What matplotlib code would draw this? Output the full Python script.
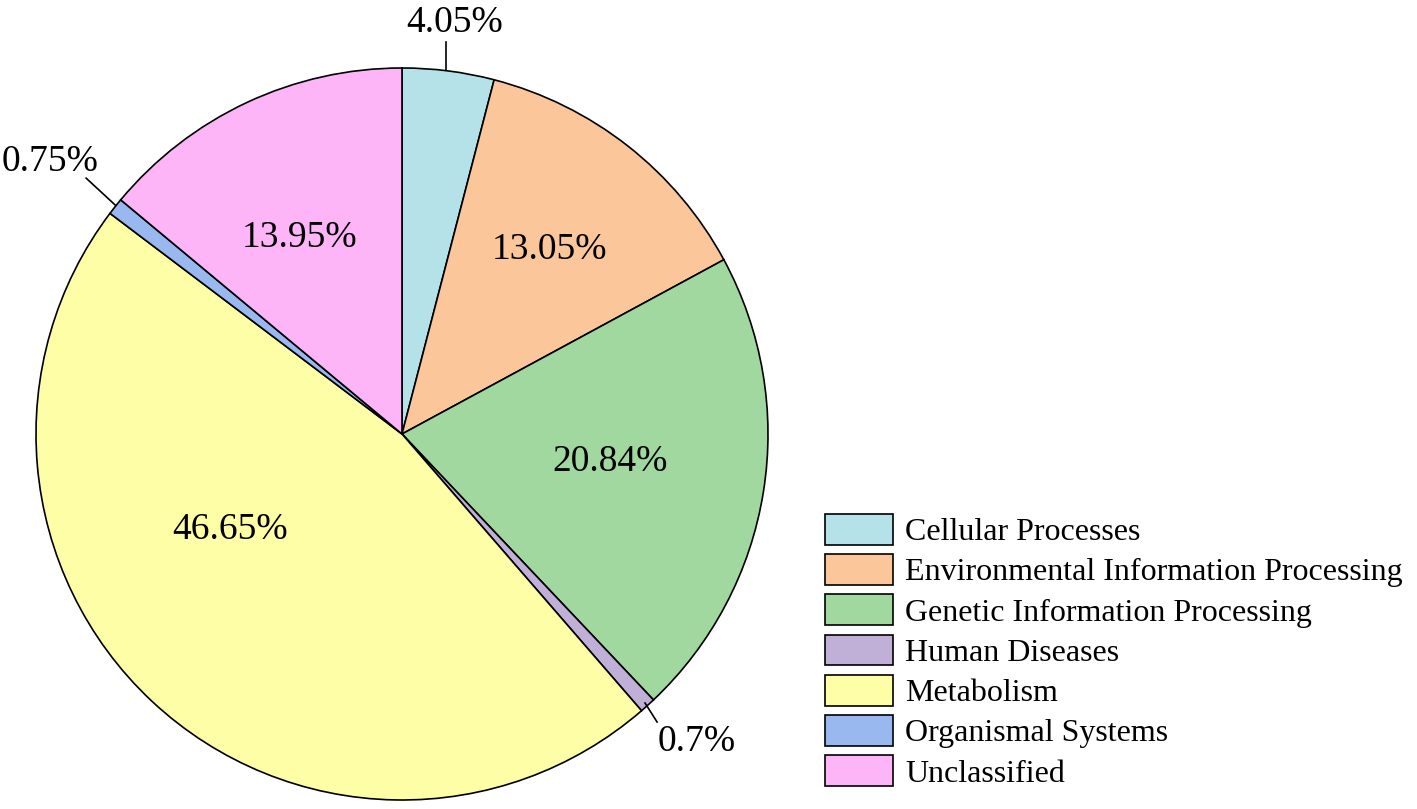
import matplotlib.pyplot as plt

plt.rcParams['font.family'] = ['Liberation Serif', 'DejaVu Serif']

categories = ["Cellular Processes", "Environmental Information Processing",
              "Genetic Information Processing", "Human Diseases", "Metabolism",
              "Organismal Systems", "Unclassified"]
values = [4.05, 13.05, 20.84, 0.7, 46.65, 0.75, 13.95]
pct_labels = ["4.05%", "13.05%", "20.84%", "0.7%", "46.65%", "0.75%", "13.95%"]
colors = ["#B5E2E8", "#FBC79A", "#A0D8A0", "#C0B0D8", "#FEFEA6", "#9AB8F0", "#FDB5F8"]

# label positions in pie units (radius 1); leader lines for the small slices
label_pos = [(0.145, 1.125), (0.404, 0.503), (0.568, -0.077), (0.806, -0.842),
             (-0.470, -0.262), (-0.962, 0.743), (-0.279, 0.536)]
leaders = {0: ((0.120, 0.995), (0.120, 1.071)),
           3: ((0.664, -0.735), (0.697, -0.787)),
           5: ((-0.784, 0.626), (-0.863, 0.699))}

fig = plt.figure(figsize=(14.17, 8.09), dpi=100)
ax = fig.add_axes([36 / 1417, 9 / 809, 732 / 1417, 732 / 809])
wedges, _ = ax.pie(values, colors=colors, startangle=90, counterclock=False,
                   radius=1, wedgeprops=dict(edgecolor='black', linewidth=1.2))
ax.set_xlim(-1, 1)
ax.set_ylim(-1, 1)
ax.set_aspect('equal')
ax.axis('off')

for i, txt in enumerate(pct_labels):
    x, y = label_pos[i]
    ax.text(x, y, txt, ha='center', va='center', fontsize=27, clip_on=False)
    if i in leaders:
        (x0, y0), (x1, y1) = leaders[i]
        ax.plot([x0, x1], [y0, y1], color='black', lw=1.2, clip_on=False)

fig.legend(wedges, categories, loc='upper left', bbox_to_anchor=(825 / 1417, 1 - 514 / 809),
           frameon=False, fontsize=23, borderpad=0, handlelength=2.13, handleheight=1.1,
           handletextpad=0.38, labelspacing=0.22, borderaxespad=0)

fig.savefig("out.png", dpi=100)
